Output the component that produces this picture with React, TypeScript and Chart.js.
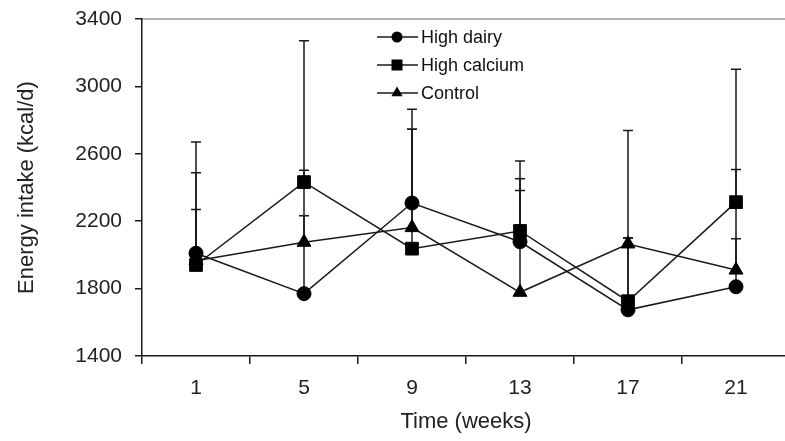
import React, { useEffect, useRef } from "react";
import { Chart, registerables } from "chart.js";

Chart.register(...registerables);

// ---- data ----
const weeks: string[] = ["1", "5", "9", "13", "17", "21"];
const seriesNames: string[] = ["High dairy", "High calcium", "Control"];
const highDairy: number[] = [2010, 1770, 2308, 2078, 1674, 1811];
const highCalcium: number[] = [1940, 2432, 2037, 2142, 1725, 2313];
const control: number[] = [1965, 2075, 2162, 1778, 2065, 1910];
// upper error (SD) for each point
const highDairySD: number[] = [660, 733, 556, 374, 1065, 285];
const highCalciumSD: number[] = [547, 839, 708, 240, 375, 789];
const controlSD: number[] = [304, 158, 583, 779, 35, 597];
const yTicks: number[] = [1400, 1800, 2200, 2600, 3000, 3400];

const FONT = "'Liberation Sans', Arial, sans-serif";
const INK = "#1a1a1a";

const seriesValues = [highDairy, highCalcium, control];
const seriesSD = [highDairySD, highCalciumSD, controlSD];
const pointStyles = ["circle", "rect", "triangle"] as const;
const pointRadii = [7, 9, 8];

function drawMarker(ctx: CanvasRenderingContext2D, style: string, x: number, y: number, r: number) {
  ctx.beginPath();
  if (style === "circle") {
    ctx.arc(x, y, r, 0, Math.PI * 2);
  } else if (style === "rect") {
    ctx.rect(x - r, y - r, 2 * r, 2 * r);
  } else {
    const h = r * 1.5;
    const w = r * Math.sqrt(3);
    ctx.moveTo(x, y - h * 2 / 3);
    ctx.lineTo(x + w / 2, y + h / 3);
    ctx.lineTo(x - w / 2, y + h / 3);
    ctx.closePath();
  }
  ctx.fill();
}

const errorBarPlugin = {
  id: "errorBars",
  beforeDatasetsDraw(chart: any) {
    const ctx: CanvasRenderingContext2D = chart.ctx;
    const yScale = chart.scales.y;
    ctx.save();
    ctx.strokeStyle = INK;
    ctx.lineWidth = 1.5;
    chart.data.datasets.forEach((_ds: any, i: number) => {
      const meta = chart.getDatasetMeta(i);
      const vals = seriesValues[i];
      const sds = seriesSD[i];
      meta.data.forEach((pt: any, j: number) => {
        const x = pt.x;
        const y0 = yScale.getPixelForValue(vals[j]);
        const y1 = yScale.getPixelForValue(vals[j] + sds[j]);
        ctx.beginPath();
        ctx.moveTo(x, y0);
        ctx.lineTo(x, y1);
        ctx.moveTo(x - 5, y1);
        ctx.lineTo(x + 5, y1);
        ctx.stroke();
      });
    });
    ctx.restore();
  },
};

const framePlugin = {
  id: "frameTop",
  beforeDraw(chart: any) {
    const { ctx, chartArea } = chart;
    ctx.save();
    ctx.strokeStyle = "#9a9a9a";
    ctx.lineWidth = 1.5;
    ctx.beginPath();
    ctx.moveTo(chartArea.left, chartArea.top);
    ctx.lineTo(chart.width, chartArea.top);
    ctx.stroke();
    ctx.restore();
  },
};

const legendPlugin = {
  id: "customLegend",
  afterDraw(chart: any) {
    const { ctx, chartArea } = chart;
    const x0 = chartArea.left + 235;
    const rows = [chartArea.top + 18, chartArea.top + 46, chartArea.top + 74];
    const legendR = [5.5, 5.5, 6.5];
    ctx.save();
    seriesNames.forEach((name, i) => {
      const y = rows[i];
      ctx.strokeStyle = INK;
      ctx.lineWidth = 1.5;
      ctx.beginPath();
      ctx.moveTo(x0, y);
      ctx.lineTo(x0 + 41, y);
      ctx.stroke();
      ctx.fillStyle = "#000";
      drawMarker(ctx, pointStyles[i], x0 + 20, y, legendR[i]);
      ctx.fillStyle = "#111";
      ctx.font = `18px ${FONT}`;
      ctx.textAlign = "left";
      ctx.textBaseline = "middle";
      ctx.fillText(name, x0 + 44, y + 1);
    });
    ctx.restore();
  },
};

export default function App() {
  const ref = useRef<HTMLCanvasElement | null>(null);

  useEffect(() => {
    if (!ref.current) return;
    const tickFont = { family: FONT, size: 21 };
    const titleFont = { family: FONT, size: 22 };
    const chart = new Chart(ref.current, {
      type: "line",
      data: {
        labels: weeks,
        datasets: seriesNames.map((name, i) => ({
          label: name,
          data: seriesValues[i],
          borderColor: INK,
          borderWidth: 1.5,
          backgroundColor: "#000",
          pointStyle: pointStyles[i],
          pointRadius: pointRadii[i],
          pointBackgroundColor: "#000",
          pointBorderColor: "#000",
          pointBorderWidth: 1,
          fill: false,
          tension: 0,
        })),
      },
      options: {
        responsive: false,
        animation: false,
        devicePixelRatio: 1,
        layout: { padding: { top: 19, right: 8, left: 0, bottom: 0 } },
        plugins: {
          legend: { display: false },
          tooltip: { enabled: false },
        },
        scales: {
          x: {
            type: "category",
            offset: true,
            grid: {
              offset: true,
              drawOnChartArea: false,
              tickLength: 8,
              color: INK,
              lineWidth: 1.5,
            },
            border: { color: INK, width: 1.5 },
            ticks: { font: tickFont, color: "#222", padding: 12, maxRotation: 0 },
            title: {
              display: true,
              text: "Time (weeks)",
              font: titleFont,
              color: "#222",
              padding: { top: 0, bottom: 6 },
            },
            afterFit: (s: any) => {
              s.height = 85;
              s.paddingLeft = 0;
              s.paddingRight = 0;
            },
          },
          y: {
            type: "linear",
            min: yTicks[0],
            max: yTicks[yTicks.length - 1],
            afterBuildTicks: (s: any) => {
              s.ticks = yTicks.map((v) => ({ value: v }));
            },
            grid: {
              drawOnChartArea: false,
              tickLength: 7,
              color: INK,
              lineWidth: 1.5,
            },
            border: { color: INK, width: 1.5 },
            ticks: {
              font: tickFont,
              color: "#222",
              padding: 13,
              callback: (v: any) => String(v),
            },
            title: {
              display: true,
              text: "Energy intake (kcal/d)",
              font: titleFont,
              color: "#222",
              padding: { top: 14, bottom: 0 },
            },
            afterFit: (s: any) => {
              s.width = 142;
              s.paddingTop = 0;
              s.paddingBottom = 0;
            },
          },
        },
      } as any,
      plugins: [framePlugin, errorBarPlugin, legendPlugin],
    });
    return () => chart.destroy();
  }, []);

  return (
    <div
      style={{
        position: "fixed",
        left: 0,
        top: 0,
        width: 785,
        height: 441,
        overflow: "hidden",
        background: "#fff",
      }}
    >
      <canvas ref={ref} width={800} height={441} style={{ display: "block", width: 800, height: 441 }} />
    </div>
  );
}
